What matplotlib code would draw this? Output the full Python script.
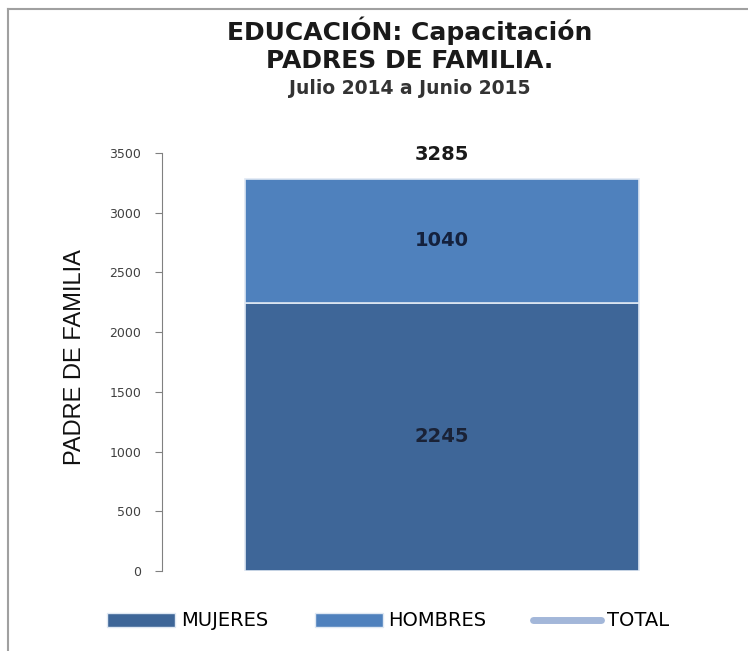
import matplotlib
matplotlib.use("Agg")
import matplotlib.pyplot as plt
from matplotlib.patches import Patch
from matplotlib.lines import Line2D

categories = ["Padres de familia"]
mujeres = [2245]
hombres = [1040]
total = [3285]
yticks = [0, 500, 1000, 1500, 2000, 2500, 3000, 3500]
series_names = ["MUJERES", "HOMBRES", "TOTAL"]

c_muj = "#3E6698"
c_hom = "#4F81BD"
c_tot = "#A3B7D9"

fig = plt.figure(figsize=(7.48, 6.51), dpi=100)
fig.patch.set_facecolor("white")
ax = fig.add_axes([162/748, 80/651, 560/748, 418/651])

x = list(range(len(categories)))
ax.bar(x, mujeres, width=0.705, color=c_muj, edgecolor="#dfe8f3", linewidth=1.2, zorder=2)
ax.bar(x, hombres, bottom=mujeres, width=0.705, color=c_hom, edgecolor="#dfe8f3", linewidth=1.2, zorder=2)
ax.plot(x, total, color=c_tot, linewidth=4, zorder=3)

for i in x:
    ax.text(i, mujeres[i] / 2, str(mujeres[i]), ha="center", va="center",
            fontsize=14, fontweight="bold", color="#1a2236", family="DejaVu Sans")
    ax.text(i, mujeres[i] + hombres[i] / 2, str(hombres[i]), ha="center", va="center",
            fontsize=14, fontweight="bold", color="#14213d", family="DejaVu Sans")
    ax.text(i, total[i] + 205, str(total[i]), ha="center", va="center",
            fontsize=14, fontweight="bold", color="#1a1a1a", family="DejaVu Sans")

ax.set_xlim(-0.5, 0.5)
ax.set_ylim(0, 3500)
ax.set_yticks(yticks)
ax.set_yticklabels([str(t) for t in yticks], fontsize=9, color="#404040")
ax.tick_params(axis="y", direction="out", length=5, width=0.8, color="#808080", pad=10)
ax.set_xticks([])
for s in ["top", "right", "bottom"]:
    ax.spines[s].set_visible(False)
ax.spines["left"].set_color("#808080")
ax.spines["left"].set_linewidth(0.8)

fig.text(75/748, 1 - 357/651, "PADRE DE FAMILIA", rotation=90, ha="center", va="center",
         fontsize=17, family=["Liberation Sans", "DejaVu Sans"], color="#111111")

tfont = ["DejaVu Sans"]
fig.text(410/748, 1 - 31/651, "EDUCACIÓN: Capacitación", ha="center", va="center",
         fontsize=18, fontweight="bold", family=tfont, color="#1a1a1a")
fig.text(410/748, 1 - 61/651, "PADRES DE FAMILIA.", ha="center", va="center",
         fontsize=18, fontweight="bold", family=tfont, color="#1a1a1a")
fig.text(410/748, 1 - 89/651, "Julio 2014 a Junio 2015", ha="center", va="center",
         fontsize=13.5, fontweight="bold", family=tfont, color="#333333")

handles = [Patch(facecolor=c_muj, edgecolor="#dfe8f3"),
           Patch(facecolor=c_hom, edgecolor="#dfe8f3"),
           Line2D([0], [0], color=c_tot, linewidth=5, solid_capstyle="round")]
fig.legend(handles, series_names, loc="center", bbox_to_anchor=(388/748, 1 - 621/651),
           ncol=3, frameon=False, handlelength=3.5, handleheight=0.7, handletextpad=0.3,
           columnspacing=2.4, prop={"family": ["DejaVu Sans"], "size": 14})

# outer border
fig.add_artist(Line2D([8/748, 8/748], [0, 1 - 9/651], transform=fig.transFigure,
                      color="#a0a0a0", linewidth=1.5))
fig.add_artist(Line2D([8/748, 1], [1 - 9/651, 1 - 9/651], transform=fig.transFigure,
                      color="#a0a0a0", linewidth=1.5))

fig.savefig("out.png", dpi=100, facecolor="white")
